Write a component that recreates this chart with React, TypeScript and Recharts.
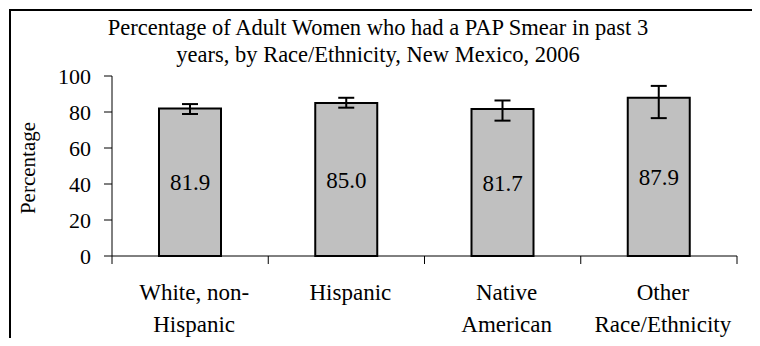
import React from 'react';
import { BarChart, Bar, XAxis, YAxis, ErrorBar, LabelList } from 'recharts';

// ── data ──────────────────────────────────────────────

const categories = ['White, non-Hispanic', 'Hispanic', 'Native American', 'Other Race/Ethnicity'];
const tickLabelLines = [['White, non-', 'Hispanic'], ['Hispanic'], ['Native', 'American'], ['Other', 'Race/Ethnicity']];
const percentages = [81.9, 85.0, 81.7, 87.9];
const ciLower = [78.9, 82.4, 75.2, 76.6];
const ciUpper = [84.4, 87.9, 86.4, 94.5];
const yTicks = [0, 20, 40, 60, 80, 100];

const titleLines = [
  'Percentage of Adult Women who had a PAP Smear in past 3',
  'years, by Race/Ethnicity, New Mexico, 2006',
];

const data = categories.map((cat, i) => ({
  cat,
  value: percentages[i],
  err: [percentages[i] - ciLower[i], ciUpper[i] - percentages[i]],
}));

// ── layout ────────────────────────────────────────────

const FONT = "'Liberation Serif', 'Times New Roman', serif";
const W = 752;
const H = 338;
const MARGIN = { top: 68, right: 23, left: 0, bottom: 0 };
const Y_AXIS_W = 104;
const X_AXIS_H = 90;
const BAND = (W - MARGIN.left - MARGIN.right - Y_AXIS_W) / categories.length;

// category tick: tick marks at band edges, two-line labels
// eslint-disable-next-line @typescript-eslint/no-explicit-any
const CategoryTick = (props: any) => {
  const { x, y, index, payload } = props;
  const half = BAND / 2;
  const lines = tickLabelLines[index] ?? [String(payload.value)];
  return (
    <g>
      <line x1={x - half} x2={x - half} y1={y} y2={y + 8} stroke="#000" strokeWidth={1} />
      {index === categories.length - 1 && (
        <line x1={x + half} x2={x + half} y1={y} y2={y + 8} stroke="#000" strokeWidth={1} />
      )}
      <text x={x + 4} y={y + 44} textAnchor="middle" fontSize={23} fontFamily={FONT} fill="#000">
        {lines.map((l, i) => (
          <tspan key={i} x={x + 4} dy={i === 0 ? 0 : 32}>{l}</tspan>
        ))}
      </text>
    </g>
  );
};

// eslint-disable-next-line @typescript-eslint/no-explicit-any
const YLabel = (props: any) => {
  const vb = props.viewBox || { x: 0, y: MARGIN.top, width: Y_AXIS_W, height: 180 };
  const cx = vb.x + 20;
  const cy = vb.y + vb.height / 2 + 2;
  return (
    <text x={cx} y={cy} transform={`rotate(-90 ${cx} ${cy})`} textAnchor="middle"
      dominantBaseline="central" fontSize={21} fontFamily={FONT} fill="#000">
      Percentage
    </text>
  );
};

export default function App() {
  return (
    <div style={{ position: 'relative', width: W, height: H, overflow: 'hidden', marginBottom: -8 }}>
      {/* outer frame (bottom edge runs off the picture) */}
      <div style={{
        position: 'absolute', left: 1, top: 1, width: 746, height: 400,
        border: '2px solid #000', boxSizing: 'border-box',
      }} />

      <div style={{
        position: 'absolute', left: 0, top: 6, width: 740, textAlign: 'center',
        fontFamily: FONT, fontSize: 22.5, lineHeight: '27px', color: '#000',
      }}>
        {titleLines.map((t, i) => <div key={i}>{t}</div>)}
      </div>

      <div style={{ position: 'absolute', left: 0, top: 0 }}>
        <BarChart width={W} height={H} data={data} margin={MARGIN} barCategoryGap={0}>
          <XAxis
            xAxisId="top"
            orientation="top"
            dataKey="cat"
            height={0}
            tick={false}
            tickLine={false}
            axisLine={{ stroke: '#808080', strokeWidth: 1 }}
          />
          <YAxis
            yAxisId="right"
            orientation="right"
            width={0}
            domain={[0, 100]}
            tick={false}
            tickLine={false}
            axisLine={{ stroke: '#808080', strokeWidth: 1 }}
          />
          <XAxis
            dataKey="cat"
            height={X_AXIS_H}
            interval={0}
            tickSize={0}
            tickMargin={0}
            tickLine={false}
            axisLine={{ stroke: '#000', strokeWidth: 1 }}
            tick={<CategoryTick />}
          />
          <YAxis
            domain={[0, 100]}
            ticks={yTicks}
            interval={0}
            width={Y_AXIS_W}
            tickSize={8}
            tickMargin={13}
            axisLine={{ stroke: '#000', strokeWidth: 1 }}
            tickLine={{ stroke: '#000', strokeWidth: 1 }}
            tick={{ fill: '#000', fontSize: 22, fontFamily: FONT }}
            label={YLabel}
          />
          <Bar
            dataKey="value"
            fill="#c0c0c0"
            stroke="#000"
            strokeWidth={2}
            barSize={62}
            isAnimationActive={false}
          >
            <ErrorBar dataKey="err" width={8} stroke="#000" strokeWidth={2} />
            <LabelList
              dataKey="value"
              position="center"
              formatter={(v: unknown) => Number(v).toFixed(1)}
              fill="#000"
              fontSize={23}
              fontFamily={FONT}
            />
          </Bar>
        </BarChart>
      </div>
    </div>
  );
}
